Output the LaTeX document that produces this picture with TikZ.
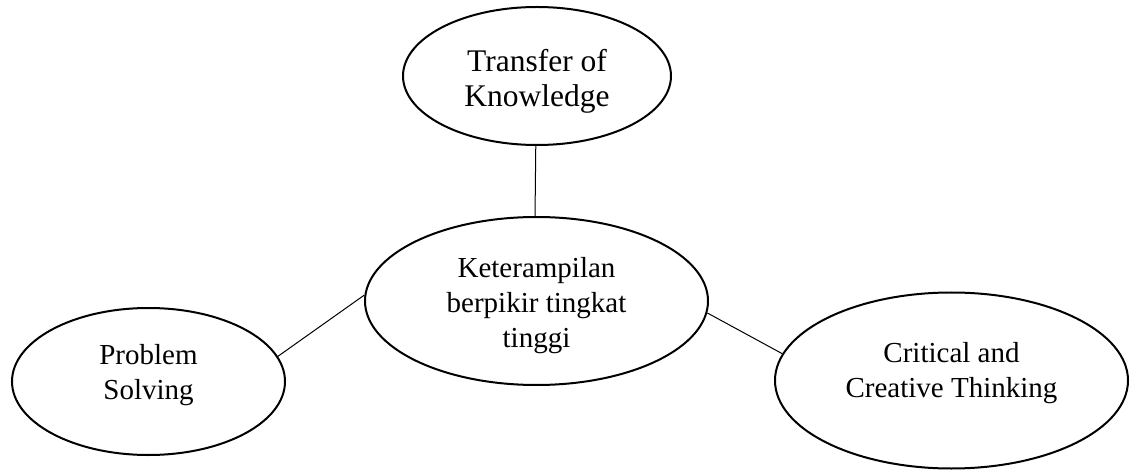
\documentclass[tikz,border=0pt]{standalone}
\usepackage{fontspec}
\setmainfont{Liberation Serif}
\usetikzlibrary{shapes.geometric}
\begin{document}
\begin{tikzpicture}[x=1pt,y=-1pt,
  oval/.style={draw=black, line width=2pt, ellipse, inner sep=0pt},
  txt/.style={align=center, inner sep=0pt, font=\fontsize{29}{35}\selectfont},
  link/.style={draw=black, line width=1pt}]
\useasboundingbox (0,0) rectangle (1135,470);
% ellipses
\node[oval, minimum width=268, minimum height=138] (tok) at (537,76) {};
\node[oval, minimum width=343, minimum height=168] (hots) at (536.5,301) {};
\node[oval, minimum width=273, minimum height=147] (ps) at (148.5,381.5) {};
\node[oval, minimum width=353, minimum height=176] (cct) at (951.5,380.5) {};
% texts
\node[txt, font=\fontsize{31.5}{35}\selectfont] (toktxt) at (537,81) {Transfer of\\Knowledge};
\node[txt] (hotstxt) at (536.5,306) {Keterampilan\\berpikir tingkat\\tinggi};
\node[txt] (pstxt) at (148.5,375.5) {Problem\\Solving};
\node[txt] (ccttxt) at (951.5,373.5) {Critical and\\Creative Thinking};
% connectors
\draw[link] (tok.-91) -- (hots.91);
\draw[link] (ps.11.4) -- (hots.178.6);
\draw[link] (hots.-4) -- (cct.171.4);
\end{tikzpicture}
\end{document}
